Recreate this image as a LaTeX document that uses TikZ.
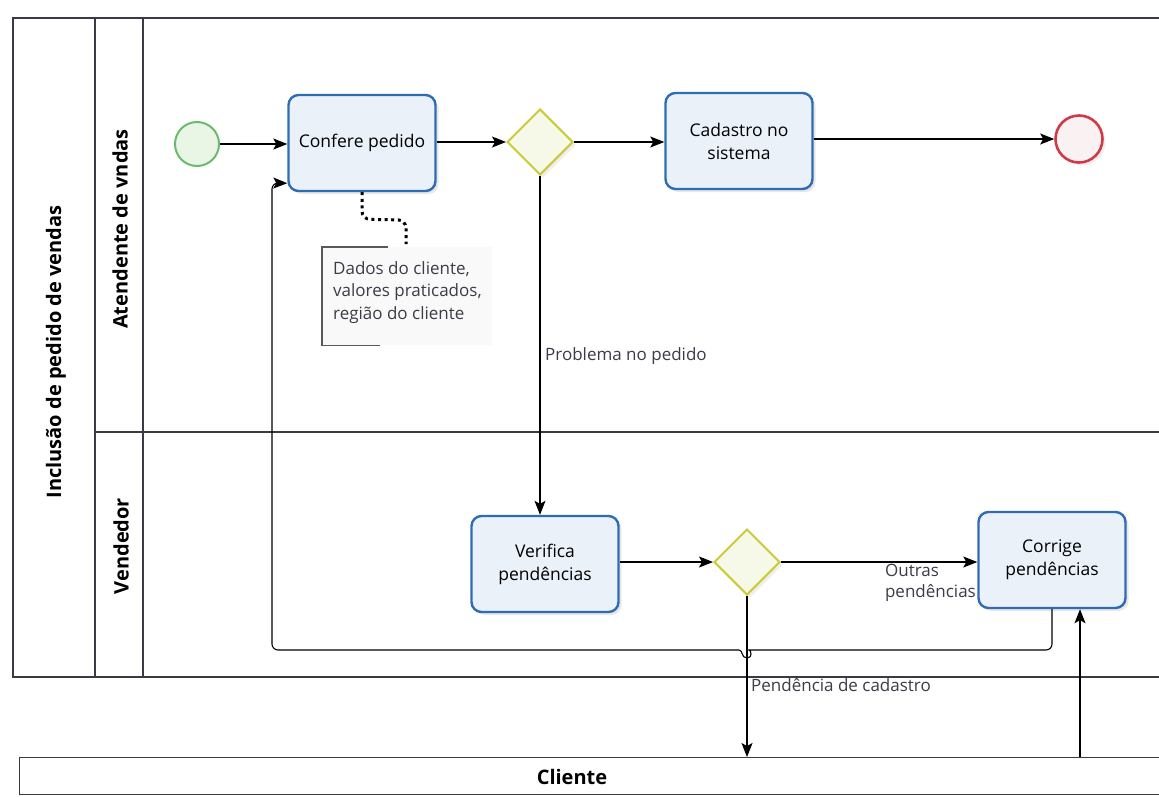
\documentclass[tikz,border=0pt]{standalone}
\usepackage{fontspec}
\setmainfont{Open Sans}
\usetikzlibrary{arrows.meta,shapes.geometric,shadows,calc}

\definecolor{taskline}{HTML}{2E6DB4}
\definecolor{taskfill}{HTML}{EAF1F9}
\definecolor{gwline}{HTML}{CACA3A}
\definecolor{gwfill}{HTML}{F6F8E8}
\definecolor{startline}{HTML}{6CBB6C}
\definecolor{startfill}{HTML}{E9F6E5}
\definecolor{endline}{HTML}{D03A46}
\definecolor{endfill}{HTML}{FAF2F2}
\definecolor{poolline}{HTML}{3A3A44}
\definecolor{labeltext}{HTML}{3C3C48}

\tikzset{
  pool/.style={draw=poolline, line width=1.4pt},
  lanelabel/.style={font=\fontsize{20}{24}\selectfont\bfseries, rotate=90},
  task/.style={draw=taskline, fill=taskfill, line width=2.4pt, rounded corners=10pt,
    minimum width=147pt, minimum height=96pt, align=center,
    font=\fontsize{17.5}{23}\selectfont,
    drop shadow={opacity=0.18, shadow xshift=3pt, shadow yshift=-3pt}},
  gateway/.style={diamond, draw=gwline, fill=gwfill, line width=2pt,
    minimum width=66pt, minimum height=66pt, inner sep=0pt,
    drop shadow={opacity=0.12, shadow xshift=3pt, shadow yshift=-3pt}},
  startev/.style={circle, draw=startline, fill=startfill, line width=2pt,
    minimum size=44pt, inner sep=0pt},
  endev/.style={circle, draw=endline, fill=endfill, line width=2.6pt,
    minimum size=47pt, inner sep=0pt,
    drop shadow={opacity=0.12, shadow xshift=3pt, shadow yshift=-3pt}},
  flow/.style={line width=1.1pt, -{Stealth[length=14pt, width=11pt, inset=3pt]}},
  assoc/.style={line width=3pt, dash pattern=on 3pt off 3.6pt, rounded corners=8pt},
  flowlabel/.style={text=labeltext, font=\fontsize{17}{21}\selectfont, inner sep=0pt},
}

\begin{document}
\begin{tikzpicture}[x=1pt, y=-1pt]
\useasboundingbox[fill=white] (0,0) rectangle (1159,796);

% pool "Inclusão de pedido de vendas" with its two lanes
\draw[pool] (1175,18) -- (13,18) -- (13,677) -- (1175,677);
\draw[pool] (95,18) -- (95,677);
\draw[pool] (143,18) -- (143,677);
\draw[pool] (95,432) -- (1175,432);
\node[lanelabel] (poolname) at (56,352) {Inclusão de pedido de vendas};
\node[lanelabel] (lane1) at (120,229) {Atendente de vndas};
\node[lanelabel] (lane2) at (121,546) {Vendedor};

% pool "Cliente"
\node[pool, draw, anchor=north west, minimum width=1160pt, minimum height=37pt,
      inner sep=0pt] (clientepool) at (19,757) {};
\node[font=\fontsize{20}{24}\selectfont\bfseries] (clientename) at (572,777) {Cliente};

% lane "Atendente de vndas"
\node[startev] (inicio) at (197,144) {};
\node[task] (confere) at (362,143) {Confere pedido};
\node[gateway] (gw1) at (540,142) {};
\node[task] (cadastro) at (739,141) {Cadastro no\\sistema};
\node[endev] (fim) at (1079,139) {};

% text annotation
\fill[gray!5] (322,247) rectangle (492,345);
\node[anchor=north west, minimum width=170pt, minimum height=98pt, inner sep=0pt]
  (nota) at (322,247) {};
\node[anchor=north west, align=left, text=labeltext, inner sep=0pt,
      font=\fontsize{17}{22.5}\selectfont] (notatexto) at (333,261)
  {Dados do cliente,\\valores praticados,\\região do cliente};
\draw[line width=1.2pt, draw=gray!70!black]
  ($(nota.north west)+(66,0)$) -- (nota.north west) -- (nota.south west) -- ++(58,0);
\draw[assoc] (confere.south) -- ++(0,27) -- ($(nota.north west)+(84,-27)$)
  -- ($(nota.north west)+(84,-3)$);

% lane "Vendedor"
\node[task] (verifica) at (545,564) {Verifica\\pendências};
\node[gateway] (gw2) at (747,562) {};
\node[task] (corrige) at (1052,560) {Corrige\\pendências};

% sequence flows
\draw[flow] (inicio) -- (confere.west |- inicio);
\draw[flow] (confere.east |- gw1) -- (gw1.west);
\draw[flow] (gw1.east) -- (cadastro.west |- gw1);
\draw[flow] (cadastro.east |- fim) -- (fim.west);
\draw[flow] (gw1.south) -- (gw1.south |- verifica.north);
\draw[flow] (verifica.east |- gw2) -- (gw2.west);
\draw[flow] (gw2.east) -- (corrige.west |- gw2);
\draw[flow] (gw2.south) -- (gw2.south |- clientepool.north);
\coordinate (retorno) at ($(corrige.south)+(28,0)$);
\draw[flow] (clientepool.north -| retorno) -- (retorno);

% return flow to "Confere pedido", hopping over the flow to "Cliente"
\draw[flow, rounded corners=6pt] (corrige.south) -- (1052,650) -- (755,650)
  [sharp corners] .. controls (751,650) and (753,658) .. (747,658)
  .. controls (741,658) and (743,650) .. (739,650)
  [rounded corners=6pt] -- (272,650) -- (272,183) -- ($(confere.south west)+(0,-9)$);

% flow labels
\node[flowlabel, anchor=west] (lbl1) at (545,356) {Problema no pedido};
\node[flowlabel, anchor=north east, align=left] (lbl2) at (976,564) {Outras\\pendências};
\node[flowlabel, anchor=west] (lbl3) at (751,685) {Pendência de cadastro};
\end{tikzpicture}
\end{document}
